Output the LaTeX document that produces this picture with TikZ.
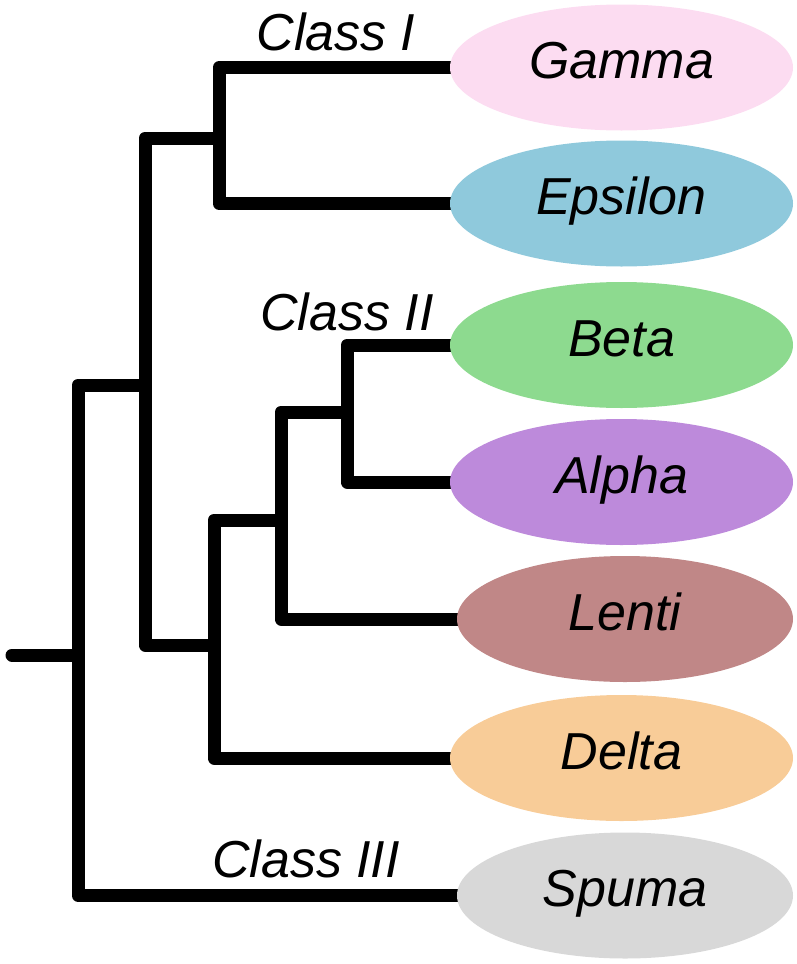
\documentclass[tikz,border=0pt]{standalone}
\usepackage{fontspec}
\setmainfont{Liberation Sans}
\usetikzlibrary{shapes.geometric}
\pgfdeclarelayer{bg}
\pgfsetlayers{bg,main}
\definecolor{cgamma}{HTML}{FCDCF1}
\definecolor{cepsilon}{HTML}{8FC9DC}
\definecolor{cbeta}{HTML}{8DDA8F}
\definecolor{calpha}{HTML}{BD8ADB}
\definecolor{clenti}{HTML}{C08787}
\definecolor{cdelta}{HTML}{F8CC98}
\definecolor{cspuma}{HTML}{D8D8D8}
\begin{document}
\begin{tikzpicture}[x=1pt,y=-1pt,
  leaf/.style={ellipse, draw=none, minimum width=343pt, minimum height=126pt, inner sep=0pt,
    font=\fontsize{52}{60}\selectfont\itshape, text height=37pt, text depth=15pt},
  leafn/.style={leaf, minimum width=336pt},
  branch/.style={line width=13pt, line cap=round, line join=round, black},
  cls/.style={font=\fontsize{52}{60}\selectfont\itshape, anchor=base, inner sep=0pt}]
\useasboundingbox (0,0) rectangle (797,964);
% leaves
\node[leaf, fill=cgamma]   (gamma)   at (621.5,67.5) {Gamma};
\node[leaf, fill=cepsilon] (epsilon) at (621.5,203.5) {Epsilon};
\node[leaf, fill=cbeta]    (beta)    at (621.5,345) {Beta};
\node[leaf, fill=calpha]   (alpha)   at (621.5,482) {Alpha};
\node[leafn, fill=clenti]  (lenti)   at (625,619) {Lenti};
\node[leaf, fill=cdelta]   (delta)   at (621.5,758) {Delta};
\node[leafn, fill=cspuma]  (spuma)   at (625,895.5) {Spuma};
% internal points
\coordinate (r0) at (12,655);
\coordinate (n1) at (78,655);
\coordinate (n2) at (145,385);
\coordinate (n3) at (219,138);
\coordinate (n4) at (214,645);
\coordinate (n5) at (281,520);
\coordinate (n6) at (347,412);
\begin{pgfonlayer}{bg}
\draw[branch] (r0) -- (n1);
\draw[branch] (n1) |- (n2);
\draw[branch] (n1) |- (spuma.west);
\draw[branch] (n2) |- (n3);
\draw[branch] (n2) |- (n4);
\draw[branch] (n3) |- (gamma.west);
\draw[branch] (n3) |- (epsilon.west);
\draw[branch] (n4) |- (n5);
\draw[branch] (n4) |- (delta.west);
\draw[branch] (n5) |- (n6);
\draw[branch] (n5) |- (lenti.west);
\draw[branch] (n6) |- (beta.west);
\draw[branch] (n6) |- (alpha.west);
\end{pgfonlayer}
% class labels
\node[cls] (c1) at (336,50) {Class I};
\node[cls] (c2) at (347,330) {Class II};
\node[cls] (c3) at (306,877) {Class III};
\end{tikzpicture}
\end{document}
